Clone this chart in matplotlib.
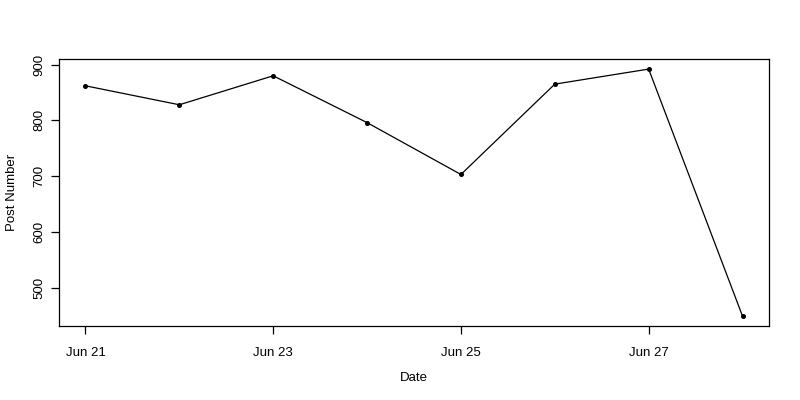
import matplotlib
matplotlib.use("Agg")
import matplotlib.pyplot as plt
import matplotlib.dates as mdates
import numpy as np
from datetime import datetime

plt.rcParams['font.family'] = ['Liberation Sans', 'DejaVu Sans']

# daily post counts
dates = ["2017-06-21", "2017-06-22", "2017-06-23", "2017-06-24",
         "2017-06-25", "2017-06-26", "2017-06-27", "2017-06-28"]
posts = [862, 828, 880, 796, 703, 865, 892, 449]
tick_dates = ["2017-06-21", "2017-06-23", "2017-06-25", "2017-06-27"]
tick_labels = ["Jun 21", "Jun 23", "Jun 25", "Jun 27"]
y_ticks = [500, 600, 700, 800, 900]

x = mdates.date2num([datetime.strptime(d, "%Y-%m-%d") for d in dates])
y = np.array(posts)

fig = plt.figure(figsize=(8, 4), dpi=100)
ax = fig.add_axes([0.074, 0.185, 0.887, 0.667])

ax.plot(x, y, color='black', linewidth=0.9, marker='o', markersize=2.6)

# R style 4% padding
xpad = (x.max() - x.min()) * 0.04
ypad = (y.max() - y.min()) * 0.04
ax.set_xlim(x.min() - xpad, x.max() + xpad)
ax.set_ylim(y.min() - ypad, y.max() + ypad)

ax.set_xticks(mdates.date2num([datetime.strptime(d, "%Y-%m-%d") for d in tick_dates]))
ax.set_xticklabels(tick_labels)
ax.set_yticks(y_ticks)
ax.set_yticklabels([str(v) for v in y_ticks], rotation=90, va='center')

ax.tick_params(direction='out', length=6, width=0.9, labelsize=9.5)
ax.tick_params(axis='x', pad=9)
ax.tick_params(axis='y', pad=4)
for s in ax.spines.values():
    s.set_linewidth(0.9)

ax.set_xlabel('Date', fontsize=9.5, va='center')
ax.set_ylabel('Post Number', fontsize=9.5, va='center')
ax.xaxis.set_label_coords(0.5, -0.195)
ax.yaxis.set_label_coords(-0.067, 0.5)

fig.savefig('out.png', dpi=100)
